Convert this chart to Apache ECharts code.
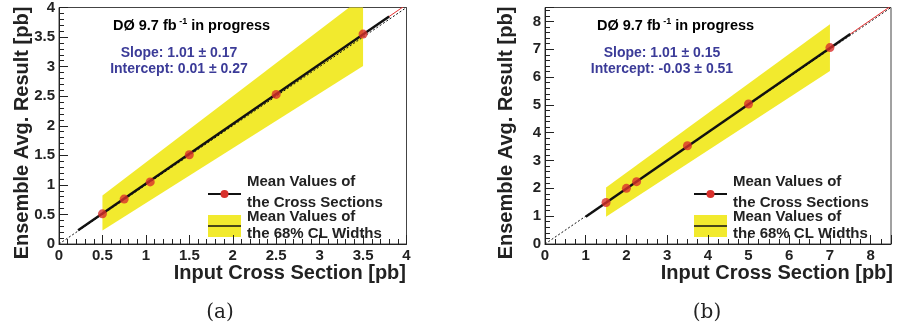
<!DOCTYPE html>
<html><head><meta charset="utf-8">
<script src="https://cdn.jsdelivr.net/npm/echarts@6/dist/echarts.min.js"></script>
<style>html,body{margin:0;padding:0;background:#fff}#c{width:897px;height:332px}</style>
</head><body><div id="c"></div>
<script>
// Panel (a)
const aInputX = [0.5, 0.75, 1.05, 1.5, 2.5, 3.5];
const aMeanY  = [0.51, 0.76, 1.05, 1.51, 2.53, 3.55];
const aBandX = [0.5, 3.5];
const aBandLow = [0.23, 3.01];
const aBandHigh = [0.82, 4.18];
const aFitBlackX = [0.22, 3.8];
const aFitRedX = [3.75, 4];
const aSlope = 1.01, aIntercept = 0.01;
const aTicks = [0, 0.5, 1, 1.5, 2, 2.5, 3, 3.5, 4];
// Panel (b)
const bInputX = [1.5, 2.0, 2.25, 3.5, 5.0, 7.0];
const bMeanY  = [1.49, 2.0, 2.24, 3.53, 5.03, 7.06];
const bBandX = [1.5, 7.0];
const bBandLow = [0.98, 6.22];
const bBandHigh = [2.03, 7.9];
const bFitBlackX = [1.0, 7.5];
const bFitRedX = [7.45, 8.5];
const bSlope = 1.01, bIntercept = -0.03;
const bTicks = [0, 1, 2, 3, 4, 5, 6, 7, 8];

const FONT = '"Liberation Sans", Arial, sans-serif';
const chart = echarts.init(document.getElementById('c'), null, {renderer: 'canvas'});

function axis(gi, max, interval, ticks, minorSplit) {
  return {
    type: 'value', gridIndex: gi, min: 0, max: max, interval: interval,
    axisLine: {show: true, onZero: false, lineStyle: {color: '#222', width: 1}},
    axisTick: {show: true, inside: true, length: 9, lineStyle: {color: '#222'}},
    minorTick: {show: true, splitNumber: minorSplit, length: 5, lineStyle: {color: '#222'}},
    splitLine: {show: false},
    axisLabel: {
      color: '#222', fontFamily: FONT, fontWeight: 'bold', fontSize: 15, margin: 4,
      formatter: v => ticks.some(t => Math.abs(t - v) < 1e-9) ? String(v) : ''
    }
  };
}

function bandSeries(xi, yi, bx, lo, hi) {
  return {
    type: 'custom', xAxisIndex: xi, yAxisIndex: yi, clip: true, z: 1,
    data: [[0]],
    renderItem: (params, api) => {
      const pts = [
        api.coord([bx[0], lo[0]]), api.coord([bx[1], lo[1]]),
        api.coord([bx[1], hi[1]]), api.coord([bx[0], hi[0]])
      ];
      return {type: 'polygon', shape: {points: pts}, style: {fill: '#f2ea2e'}};
    },
    silent: true
  };
}

function lineS(xi, yi, data, color, width, type, z) {
  return {type: 'line', xAxisIndex: xi, yAxisIndex: yi, data: data, showSymbol: false,
    symbol: 'none', clip: true, z: z, silent: true,
    lineStyle: {color: color, width: width, type: type}};
}

function panelSeries(i, xs, ys, bx, lo, hi, fbx, frx, s, c, maxv) {
  return [
    bandSeries(i, i, bx, lo, hi),
    lineS(i, i, [[0, 0], [maxv, maxv]], '#111', 1, [2, 2], 2),
    lineS(i, i, frx.map(x => [x, s * x + c]), '#e53030', 1, 'solid', 3),
    lineS(i, i, fbx.map(x => [x, s * x + c]), '#111', 2.5, 'solid', 4),
    {type: 'scatter', xAxisIndex: i, yAxisIndex: i, z: 5, symbol: 'circle', symbolSize: 9,
      itemStyle: {color: '#d9302c'}, data: xs.map((x, k) => [x, ys[k]]), silent: true}
  ];
}

function legendGraphics(x0, yTop, tx) {
  const ts = {fontFamily: FONT, fontWeight: 'bold', fontSize: 15, fill: '#222', textVerticalAlign: 'middle'};
  return [
    {type: 'line', shape: {x1: x0, y1: 194, x2: x0 + 33, y2: 194}, style: {stroke: '#111', lineWidth: 2}},
    {type: 'circle', shape: {cx: x0 + 16.5, cy: 194, r: 4}, style: {fill: '#d9302c'}},
    {type: 'rect', shape: {x: x0, y: 215, width: 33, height: 22}, style: {fill: '#f2ea2e'}},
    {type: 'line', shape: {x1: x0, y1: 226, x2: x0 + 33, y2: 226}, style: {stroke: '#111', lineWidth: 1.5}},
    {type: 'text', x: tx, y: 182, style: Object.assign({text: 'Mean Values of'}, ts)},
    {type: 'text', x: tx, y: 203, style: Object.assign({text: 'the Cross Sections'}, ts)},
    {type: 'text', x: tx, y: 217, style: Object.assign({text: 'Mean Values of'}, ts)},
    {type: 'text', x: tx, y: 234, style: Object.assign({text: 'the 68% CL Widths'}, ts)}
  ];
}

function panelTexts(dx, dCenter, slopeTxt, interTxt, sCenter, ytx, xtRight, cap, capX) {
  const rich = {
    n: {fontFamily: FONT, fontWeight: 'bold', fontSize: 14.5, color: '#222'},
    sup: {fontFamily: FONT, fontWeight: 'bold', fontSize: 9, color: '#222', verticalAlign: 'top', padding: [0, 0, 8, 0]}
  };
  const blue = {fontFamily: FONT, fontWeight: 'bold', fontSize: 14, fill: '#3b3b98', textAlign: 'center', textVerticalAlign: 'middle'};
  return [
    {type: 'text', x: dx, y: 17, style: {text: '{n|DØ 9.7 fb}{sup| -1}{n| in progress}', rich: rich}},
    {type: 'text', x: sCenter, y: 53, style: Object.assign({text: slopeTxt}, blue)},
    {type: 'text', x: sCenter, y: 69.5, style: Object.assign({text: interTxt}, blue)},
    {type: 'text', x: ytx, y: 133, rotation: Math.PI / 2,
      style: {text: 'Ensemble Avg. Result [pb]', fontFamily: FONT, fontWeight: 'bold', fontSize: 20, fill: '#222', textAlign: 'center', textVerticalAlign: 'middle'}},
    {type: 'text', x: xtRight, y: 273,
      style: {text: 'Input Cross Section [pb]', fontFamily: FONT, fontWeight: 'bold', fontSize: 20, fill: '#222', textAlign: 'right', textVerticalAlign: 'middle'}},
    {type: 'text', x: capX, y: 313,
      style: {text: cap, fontFamily: '"DejaVu Serif", "Liberation Serif", serif', fontSize: 20, fill: '#222', textAlign: 'center', textVerticalAlign: 'middle'}}
  ];
}

const option = {
  animation: false,
  backgroundColor: '#fff',
  grid: [
    {left: 59, right: 490.5, top: 7.5, bottom: 88, show: true, borderColor: '#444', borderWidth: 1, backgroundColor: 'transparent'},
    {left: 545, right: 6, top: 7.5, bottom: 88, show: true, borderColor: '#444', borderWidth: 1, backgroundColor: 'transparent'}
  ],
  xAxis: [axis(0, 4, 0.5, aTicks, 5), axis(1, 8.5, 1, bTicks, 4)],
  yAxis: [axis(0, 4, 0.5, aTicks, 5), axis(1, 8.5, 1, bTicks, 5)],
  series: [].concat(
    panelSeries(0, aInputX, aMeanY, aBandX, aBandLow, aBandHigh, aFitBlackX, aFitRedX, aSlope, aIntercept, 4),
    panelSeries(1, bInputX, bMeanY, bBandX, bBandLow, bBandHigh, bFitBlackX, bFitRedX, bSlope, bIntercept, 8.5)
  ),
  graphic: [].concat(
    legendGraphics(208, 215, 247),
    legendGraphics(694, 215, 733),
    panelTexts(113, 0, 'Slope: 1.01 ± 0.17', 'Intercept: 0.01 ± 0.27', 179, 22, 406, '(a)', 220),
    panelTexts(597, 0, 'Slope: 1.01 ± 0.15', 'Intercept: -0.03 ± 0.51', 662, 506, 893, '(b)', 707)
  )
};
chart.setOption(option);
</script></body></html>
